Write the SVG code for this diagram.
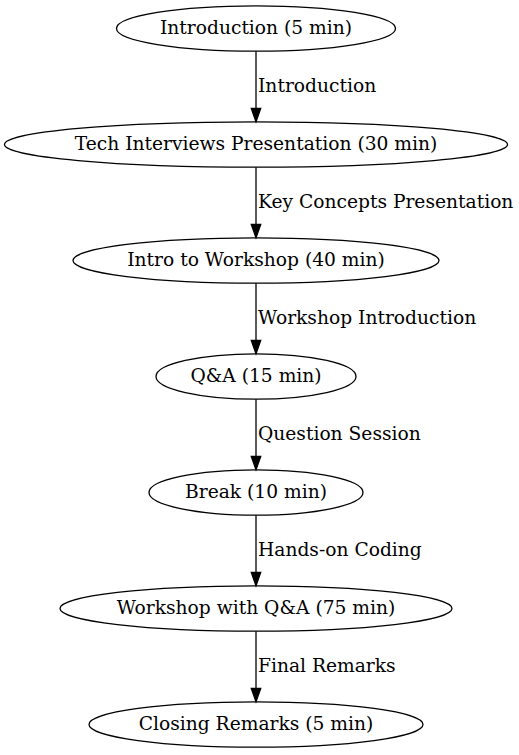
<svg xmlns="http://www.w3.org/2000/svg" width="519" height="755" viewBox="0 0 519 755">
<style>
.n ellipse{fill:none;stroke:#000;stroke-width:1.3}
text{font-family:"DejaVu Serif",serif;font-size:18.67px;fill:#000}
.n text{text-anchor:middle}
.e line{stroke:#000;stroke-width:1.3}
.e polygon{fill:#000;stroke:#000;stroke-width:1.3}
</style>
<rect width="519" height="755" fill="#fff"/>
<g id="n1" class="n"><ellipse cx="256" cy="28.5" rx="139.5" ry="22.7"/><text x="256" y="34">Introduction (5 min)</text></g>
<g id="n2" class="n"><ellipse cx="256" cy="144.5" rx="251.5" ry="22.7"/><text x="256" y="150">Tech Interviews Presentation (30 min)</text></g>
<g id="n3" class="n"><ellipse cx="256" cy="260.5" rx="183" ry="22.7"/><text x="256" y="266">Intro to Workshop (40 min)</text></g>
<g id="n4" class="n"><ellipse cx="256" cy="376.5" rx="100" ry="22.7"/><text x="256" y="382">Q&amp;A (15 min)</text></g>
<g id="n5" class="n"><ellipse cx="256" cy="492.5" rx="107" ry="22.7"/><text x="256" y="498">Break (10 min)</text></g>
<g id="n6" class="n"><ellipse cx="256" cy="608.5" rx="196" ry="22.7"/><text x="256" y="614">Workshop with Q&amp;A (75 min)</text></g>
<g id="n7" class="n"><ellipse cx="256" cy="724.5" rx="167" ry="22.7"/><text x="256" y="730">Closing Remarks (5 min)</text></g>
<g id="edges" class="e">
<line x1="256" y1="51.2" x2="256" y2="108.5"/><polygon points="251.3,108.5 260.7,108.5 256,121.8"/><text x="258" y="92">Introduction</text>
<line x1="256" y1="167.2" x2="256" y2="224.5"/><polygon points="251.3,224.5 260.7,224.5 256,237.8"/><text x="258" y="208">Key Concepts Presentation</text>
<line x1="256" y1="283.2" x2="256" y2="340.5"/><polygon points="251.3,340.5 260.7,340.5 256,353.8"/><text x="258" y="324">Workshop Introduction</text>
<line x1="256" y1="399.2" x2="256" y2="456.5"/><polygon points="251.3,456.5 260.7,456.5 256,469.8"/><text x="258" y="440">Question Session</text>
<line x1="256" y1="515.2" x2="256" y2="572.5"/><polygon points="251.3,572.5 260.7,572.5 256,585.8"/><text x="258" y="556">Hands-on Coding</text>
<line x1="256" y1="631.2" x2="256" y2="688.5"/><polygon points="251.3,688.5 260.7,688.5 256,701.8"/><text x="258" y="672">Final Remarks</text>
</g>
</svg>
